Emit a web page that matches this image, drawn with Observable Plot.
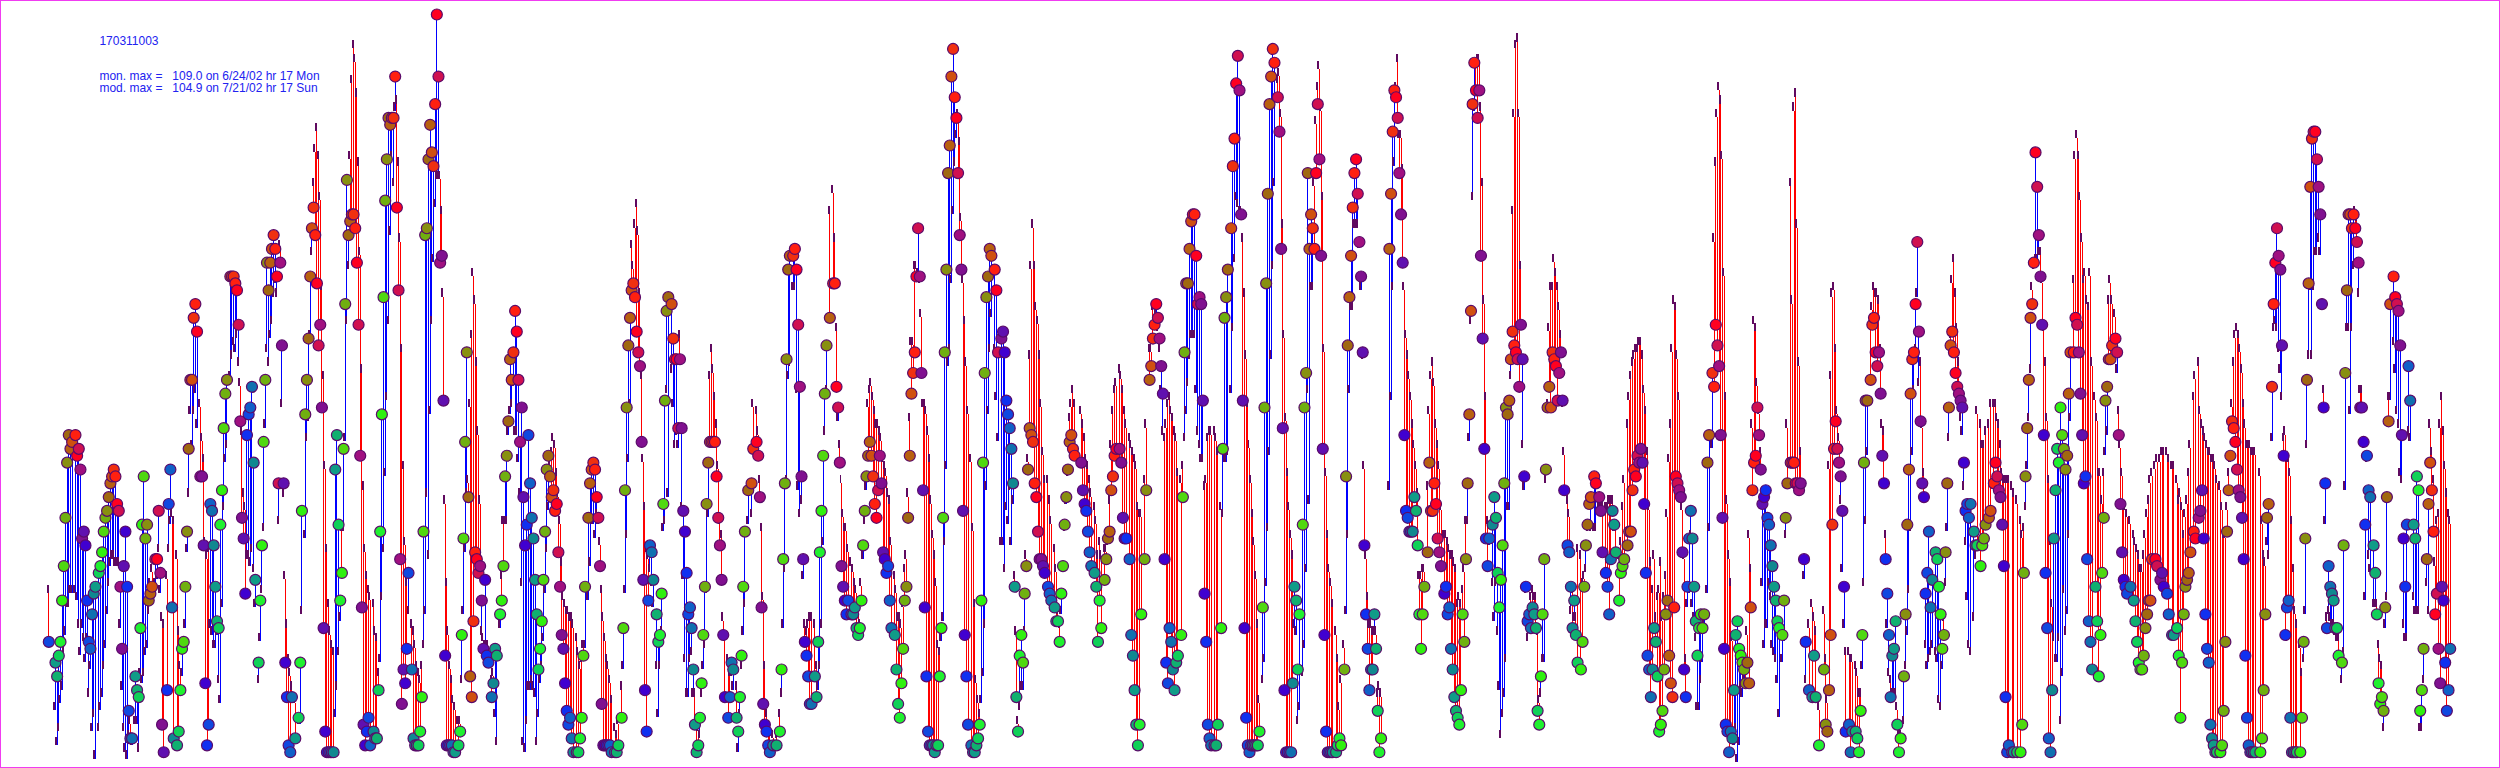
<!DOCTYPE html>
<html>
<head>
<meta charset="utf-8">
<script src="https://cdn.jsdelivr.net/npm/d3@7"></script>
<script src="https://cdn.jsdelivr.net/npm/@observablehq/plot@0.6"></script>
<style>
html,body{margin:0;padding:0;background:#fff}
#frame{width:2500px;height:768px;box-sizing:border-box;border:1px solid #f03cf0;overflow:hidden;position:relative}
#frame svg{display:block;position:absolute;left:-1px;top:-1px;background:none}
</style>
</head>
<body>
<div id="frame"></div>
<script>
// Hourly readings, each row is [hour of series, monitored ppb, modelled ppb]
const stretch1 = [[29,18,25],[33,15,8],[34,13,3],[35,16,5],[36,18,9],[37,24,11],[38,29,16],[39,36,19],[40,44,23],[41,48,23],[42,46,25],[43,47,25],[45,48,25],[46,45,24],[47,46,20],[48,43,16],[49,33,20],[50,34,18],[51,32,15],[52,24,18],[53,18,10],[54,17,14],[55,22,5],[56,25,7],[57,26,1],[59,28,5],[60,29,8],[61,31,10],[62,34,14],[63,36,17],[64,37,22],[65,39,26],[66,41,29],[67,42,30],[68,43,30],[69,42,29],[70,38,29],[71,37,29],[72,26,20],[73,17,11],[74,29,5],[75,34,2],[76,26,1],[77,8,4],[78,4,6],[79,4,3],[81,13,6],[82,11,6],[83,10,2],[84,20,13],[85,35,12],[86,42,13],[87,33,16],[88,35,17],[89,24,22],[90,25,26],[91,26,28],[93,30,26],[94,30,27],[95,37,31],[96,28,25],[97,6,21],[98,2,20],[100,11,27],[101,38,31],[102,43,35],[103,23,36],[104,4,35],[106,3,30],[107,5,19],[108,11,14],[109,17,13],[110,18,17],[111,26,20],[112,34,31],[113,46,39],[114,56,51],[115,56,46],[116,65,51],[117,67,54],[118,63,49]];
const stretch2 = [[120,42,52],[121,42,47],[122,32,44],[123,12,32],[124,3,30],[125,6,31],[126,38,20],[127,37,19],[128,32,17],[129,26,17],[130,21,19],[131,20,12],[132,35,9],[133,40,23],[134,49,37],[135,54,44],[136,56,46],[138,71,56],[139,71,59],[140,71,61],[141,70,60],[142,69,62],[143,64,58],[144,50,55],[145,36,48],[146,33,39],[147,25,37],[148,48,30],[149,51,30],[150,52,29],[151,55,31],[152,44,28],[153,27,23],[155,15,12],[156,24,18],[157,32,25],[158,47,34],[159,56,49],[160,73,60],[161,69,58],[162,73,62],[163,75,64],[164,77,68],[165,75,70],[166,71,68],[167,41,35],[168,73,75],[169,61,52],[170,41,39],[171,15,27],[172,10,20],[173,3,15],[174,2,13],[175,10,11],[177,4,9],[179,7,6],[180,15,6],[181,37,22],[183,51,33],[184,56,47],[185,62,50],[186,71,62],[187,78,74],[188,81,84],[189,77,89],[190,70,92],[191,61,88],[192,64,82],[193,52,69],[194,20,56],[195,5,43],[196,2,31],[197,2,23],[198,2,19],[199,2,17],[200,2,16],[201,43,7],[202,48,11],[203,35,16],[204,24,21],[205,28,34],[206,46,34],[207,67,47],[208,85,64],[209,77,72]];
const stretch3 = [[210,79,88],[211,80,99],[212,80,104],[213,78,102],[214,73,97],[215,64,87],[216,45,74],[217,23,57],[218,6,40],[219,3,31],[220,5,27],[221,7,25],[222,3,24],[224,5,23],[225,4,19],[226,4,18],[227,11,13],[228,34,15],[229,51,24],[230,68,31],[231,82,42],[232,88,53],[233,94,64],[234,93,77],[235,94,88],[236,94,84],[237,100,95],[238,81,96],[239,69,87],[240,30,76],[241,9,60],[242,14,43],[243,12,32],[244,17,26],[245,28,22],[247,14,20],[248,4,19],[249,3,17],[250,3,14],[251,3,13],[252,5,12],[253,10,14],[254,34,17],[255,77,22],[256,78,39],[257,88,30],[258,93,51],[259,89,64],[260,87,73],[261,96,81],[262,109,85],[263,100,85],[264,73,85],[265,74,80],[266,53,68],[267,16,38],[268,3,26],[269,3,19],[270,3,14],[271,3,12],[272,2,9],[273,2,8],[275,3,6],[276,5,6],[277,19,12],[278,33,22],[279,47,31],[280,60,39],[281,39,41],[282,13,52],[283,10,62],[284,21,71],[285,31,67],[286,30,58],[287,28,48],[288,29,38],[289,24,19],[290,17,18],[291,27,17],[292,16,17],[293,15,17],[295,10,12],[296,12,13],[297,17,7],[298,16,3]];
const stretch4 = [[300,22,20],[301,24,27],[302,29,35],[303,42,35],[304,45,35],[305,50,48],[306,59,51],[307,56,52],[308,60,55],[309,66,48],[310,63,48],[311,56,44],[312,47,39],[313,52,26],[314,39,3],[315,32,2],[316,35,6],[317,48,11],[318,41,11],[319,36,12],[320,33,11],[321,27,10],[322,22,3],[323,14,7],[324,17,12],[325,21,14],[326,27,18],[327,34,25],[328,43,31],[329,45,37],[330,42,43],[331,39,45],[332,40,47],[333,37,46],[334,38,42],[335,31,39],[336,26,35],[337,19,29],[338,17,24],[339,12,23],[340,8,22],[341,6,22],[342,7,21],[343,4,21],[344,2,20],[346,2,18],[347,2,16],[348,4,14],[349,7,15],[350,16,17],[351,26,17],[353,36,24],[354,41,29],[355,43,35],[356,44,35],[357,43,33],[358,39,36],[359,36,35],[360,29,32],[361,9,25],[362,3,21],[363,3,18],[364,3,15],[365,3,14],[366,3,12],[367,2,9],[369,2,5],[370,2,4],[371,3,6],[373,7,11],[374,20,14],[375,40,25],[376,52,33],[377,61,44],[378,65,52],[379,69,75],[380,70,72],[381,68,78],[382,63,81],[383,60,77],[384,58,68],[385,47,56],[386,27,44],[387,11,37],[388,5,31],[389,24,30],[390,32,28],[391,31,26],[392,27,23],[394,22,14],[395,18,7],[396,19,14],[397,25,19],[398,38,34],[399,53,35]];
const stretch5 = [[400,66,54],[401,68,39],[403,67,57],[404,62,52],[405,59,46],[406,59,48],[407,49,46],[408,59,62],[409,49,37],[410,37,27],[411,34,15],[412,28,10],[413,22,10],[414,23,15],[415,20,16],[416,14,10],[417,6,10],[418,2,6],[419,3,5],[420,7,4],[421,12,10],[422,19,14],[423,26,17],[424,38,25],[425,44,36],[426,47,56],[427,47,60],[428,47,57],[429,47,53],[430,42,49],[431,36,43],[432,32,35],[433,27,33],[434,19,21],[435,10,18],[437,7,15],[438,10,13],[439,15,13],[440,14,11],[442,7,11],[443,5,2],[444,10,7],[445,16,14],[446,26,19],[447,34,23],[449,40,35],[451,41,36],[452,46,52],[454,47,51],[455,45,48],[456,39,41],[457,23,34],[458,9,24],[459,6,14],[460,5,7],[461,3,5],[462,2,5],[464,3,4],[466,3,4],[468,5,7],[469,14,10],[470,30,20],[471,41,28],[472,59,41],[473,72,56],[474,74,58],[476,74,69],[477,75,69],[478,72,54],[479,64,40],[480,55,36],[481,42,38],[482,30,27],[483,18,20],[484,16,19],[485,13,20],[486,9,21],[487,9,21],[489,13,20],[490,10,14],[491,18,11],[492,31,14],[493,37,20],[494,45,32],[495,54,48],[496,61,54],[498,65,80]];
const stretch6 = [[500,70,83],[501,70,76],[502,55,63],[503,52,50],[504,44,46],[505,29,41],[506,26,36],[507,24,34],[508,22,34],[509,24,31],[511,22,29],[512,22,28],[513,23,26],[514,20,25],[515,19,22],[516,20,20],[517,24,26],[518,32,30],[519,37,35],[520,42,40],[521,45,52],[522,47,54],[523,45,55],[524,42,53],[525,38,51],[526,36,49],[527,40,49],[528,45,48],[529,41,47],[530,31,44],[531,30,43],[532,28,42],[533,29,39],[534,24,38],[535,20,32],[537,19,27],[538,14,25],[539,9,21],[540,7,21],[541,12,20],[542,17,23],[543,24,28],[544,26,30],[545,36,39],[546,45,50],[547,54,61],[548,57,61],[549,60,72],[550,71,72],[551,78,71],[552,71,70],[553,57,65],[554,40,52],[555,23,52],[556,13,51],[557,5,48],[558,3,44],[559,3,38],[560,3,33],[561,2,30],[562,3,26],[563,3,17],[564,13,16],[565,20,18],[566,36,21],[567,60,32],[568,72,43],[569,86,58],[570,90,60],[571,100,70],[572,104,80],[573,97,87],[574,94,91],[575,86,94],[576,77,90],[577,72,79],[578,37,70],[579,19,64],[580,13,58],[581,6,51],[583,3,44],[584,2,34],[585,2,23],[586,3,12],[587,4,9],[588,6,7],[589,24,9],[590,44,13],[591,57,20],[592,68,40],[593,71,51],[594,75,60],[595,74,65],[597,72,60],[598,69,53],[599,60,47]];
const stretch7 = [[601,62,32],[602,63,32],[603,60,28],[604,53,37],[605,51,35],[606,49,40],[607,46,32],[608,41,38],[609,26,27],[610,10,19],[611,5,6],[612,16,8],[613,19,11],[614,15,11],[615,25,19],[616,29,30],[617,43,44],[618,49,59],[619,48,72],[620,47,78],[621,41,72],[622,39,66],[623,34,64],[624,30,59],[625,30,52],[626,29,45],[627,28,41],[629,26,41],[630,25,38],[631,24,35],[633,23,31],[634,21,28],[635,21,22],[636,18,20],[637,25,22],[638,29,28],[639,35,34],[640,39,38],[641,43,42],[642,47,50],[643,48,52],[644,46,54],[645,45,52],[649,44,51],[650,40,49],[651,38,47],[652,37,44],[653,34,43],[654,31,41],[655,29,39],[657,28,37],[658,26,35],[659,18,30],[660,24,32],[661,20,30],[663,27,31],[664,30,31],[665,33,32],[666,34,38],[667,40,46],[668,42,51],[669,45,54],[670,46,55],[672,46,57],[673,44,56],[674,36,54],[675,33,51],[676,33,49],[678,30,47],[679,19,46],[680,16,45],[681,11,44],[682,6,43],[683,3,37],[684,6,36],[685,22,36],[687,30,41],[688,40,49],[690,56,60],[691,58,60],[692,62,66],[693,64,64],[694,67,65],[695,65,63],[696,62,60],[697,58,54],[698,54,48],[699,30,47]];
const stretch8 = [[700,15,49],[701,12,52],[702,20,53],[703,18,51],[704,14,50],[705,11,48],[706,15,47],[707,16,42],[709,19,41],[710,39,43],[711,60,47],[712,70,51],[713,70,55],[714,75,59],[715,79,62],[716,80,62],[717,80,62],[718,74,54],[719,67,48],[720,68,46],[721,67,44],[722,53,44],[723,25,40],[724,18,41],[725,6,47],[726,4,48],[727,3,48],[729,3,48],[730,3,47],[731,6,45],[733,20,37],[734,46,36],[735,65,44],[736,68,44],[737,72,45],[739,78,54],[740,87,63],[741,91,73],[742,99,82],[743,103,81],[744,98,80],[745,80,80],[746,53,76],[747,20,68],[748,7,59],[749,3,52],[750,2,46],[751,3,41],[752,3,36],[753,3,32],[754,3,27],[755,3,20],[756,5,9],[758,23,12],[759,52,15],[760,70,26],[761,83,34],[762,96,45],[763,100,59],[764,104,72],[765,102,84],[767,97,99],[768,92,100],[769,75,94],[770,49,78],[771,11,62],[772,2,50],[773,2,42],[774,2,37],[775,2,33],[776,12,30],[777,26,20],[778,24,19],[779,14,6],[780,22,8],[782,35,13],[783,52,17],[784,57,28],[785,86,54],[786,75,38],[787,80,69],[788,78,69],[789,75,84],[790,86,93],[791,96,98],[792,88,101],[793,74,95],[794,46,82],[795,19,60],[796,5,42],[797,2,33],[798,2,28],[799,2,26]];
const stretch9 = [[800,2,23],[802,2,19],[803,3,15],[804,4,8],[805,3,12],[807,14,17],[808,42,22],[809,61,33],[810,68,54],[811,74,66],[812,81,66],[813,86,78],[814,88,78],[815,83,78],[816,76,75],[817,71,69],[818,60,59],[819,32,43],[820,22,30],[821,17,24],[822,11,20],[823,14,20],[824,14,19],[825,22,19],[826,17,19],[827,8,10],[828,2,11],[829,4,10],[834,75,40],[835,83,53],[836,92,69],[837,98,87],[838,97,98],[839,94,102],[840,86,91],[841,80,91],[842,73,86],[843,48,69],[844,37,62],[845,36,59],[846,34,56],[847,34,53],[848,34,49],[849,39,46],[850,37,43],[851,32,39],[852,22,27],[853,17,27],[854,22,28],[855,26,28],[857,31,40],[858,44,51],[859,37,56],[860,37,58],[861,41,55],[862,38,49],[863,33,46],[864,31,43],[865,29,37],[867,25,33],[868,26,33],[869,22,32],[870,23,31],[871,17,30],[872,14,30],[873,10,29],[874,8,28],[875,7,23],[876,6,24],[877,11,23],[878,22,25],[879,18,28],[880,30,35],[881,41,35],[882,51,47],[883,66,64],[884,96,82],[885,102,95],[886,98,101],[887,94,102],[888,98,102],[889,74,95],[890,62,84],[891,46,67],[892,33,53],[893,29,35],[894,33,32],[896,35,26],[897,39,21],[898,36,26],[899,28,19]];
const stretch10 = [[900,23,11],[901,27,4],[902,32,7],[903,41,10],[904,52,15],[905,51,37],[906,53,37],[907,59,56],[908,63,80],[909,61,94],[910,60,104],[911,59,105],[912,55,94],[913,64,72],[914,59,46],[915,42,40],[916,26,25],[917,21,18],[918,22,21],[919,20,24],[920,23,25],[921,22,24],[922,20,24],[923,8,19],[924,6,9],[925,13,10],[926,22,15],[927,30,15],[928,43,41],[929,52,52],[930,55,63],[931,52,69],[932,60,69],[933,59,73],[934,58,71],[935,53,69],[936,57,66],[937,60,62],[938,53,52],[939,40,45],[941,32,38],[942,31,36],[943,26,22],[944,20,25],[945,24,21],[946,19,21],[947,15,31],[949,14,30],[950,18,26],[951,26,27],[952,32,28],[953,35,34],[954,38,38],[955,39,34],[957,42,34],[958,41,34],[960,39,37],[961,37,37],[962,31,37],[964,28,37],[965,26,37],[966,22,38],[967,30,38],[968,37,38],[969,35,34],[970,31,34],[972,24,30],[973,28,32],[974,29,37],[975,30,41],[977,32,49],[978,34,53],[979,34,56],[980,40,58],[981,43,59],[982,42,60],[983,45,60],[984,44,61],[985,46,61],[986,44,59],[987,38,54],[988,28,51],[989,16,45],[990,14,37],[991,10,29],[992,14,25],[993,20,30],[994,18,21],[995,13,24],[996,5,25],[997,6,29],[998,8,21],[999,14,24]];
const stretch11 = [[1000,22,27],[1001,24,36],[1002,16,44],[1003,12,49],[1004,10,60],[1005,23,67],[1006,42,66],[1007,41,59],[1008,40,53],[1009,39,40],[1010,31,37],[1011,14,30],[1012,10,15],[1013,26,23],[1014,33,25],[1015,37,33],[1016,33,23],[1017,26,21],[1018,21,18],[1019,16,8],[1020,20,8],[1021,22,12],[1022,20,15],[1023,22,20],[1025,44,25],[1026,48,34],[1028,57,46],[1029,55,76],[1030,64,87],[1031,61,94],[1032,58,98],[1033,48,96],[1034,36,88],[1035,17,71],[1036,6,53],[1037,5,38],[1038,2,30],[1039,5,26],[1040,4,18],[1041,11,3],[1042,19,5],[1043,21,0.5],[1044,17,3],[1045,16,11],[1046,15,10],[1047,14,12],[1048,12,14],[1049,15,19],[1050,12,33],[1051,23,28],[1052,40,49],[1053,44,64],[1054,45,63],[1055,52,55],[1056,48,51],[1057,43,45],[1058,38,26],[1059,39,17],[1060,40,20],[1061,36,20],[1062,35,26],[1063,32,24],[1064,29,17],[1065,26,16],[1066,24,15],[1067,21,12],[1068,20,7],[1070,19,15],[1071,24,18],[1072,36,33],[1073,41,49],[1075,44,84],[1076,44,67],[1077,44,95],[1078,41,97],[1079,41,78],[1080,40,58],[1081,41,45],[1083,30,27],[1084,18,12],[1086,11,20],[1088,10,23],[1089,16,21],[1090,10,19],[1092,3,8],[1095,14,22],[1096,6,15],[1097,5,9],[1098,11,43],[1099,19,56]];
const stretch12 = [[1100,35,68],[1101,46,69],[1102,50,60],[1103,46,51],[1104,44,47],[1105,42,38],[1106,37,28],[1107,26,20],[1108,5,16],[1110,6,16],[1111,2,15],[1112,5,15],[1114,5,14],[1115,4,13],[1116,2,10],[1117,8,10],[1118,19,14],[1119,44,26],[1120,53,35],[1121,53,45],[1123,56,64],[1124,64,66],[1125,65,69],[1126,60,68],[1127,58,68],[1128,60,67],[1129,54,60],[1130,45,49],[1131,41,48],[1132,30,33],[1133,25,20],[1134,19,13],[1135,10,12],[1136,16,10],[1137,17,10],[1138,21,10],[1139,6,8],[1140,2,4],[1141,4,4],[1143,13,6],[1144,22,14],[1145,35,19],[1146,43,25],[1147,54,34],[1148,59,45],[1149,60,54],[1150,67,60],[1151,76,68],[1152,63,55],[1153,50,58],[1154,41,49],[1155,39,42],[1156,25,17],[1157,28,14],[1158,34,15],[1159,23,16],[1160,27,17],[1162,31,16],[1163,30,15],[1164,26,9],[1165,22,8],[1166,17,14],[1167,19,21],[1168,31,26],[1169,41,34],[1170,52,47],[1171,61,62],[1172,63,70],[1173,60,73],[1174,57,68],[1175,55,63],[1176,54,58],[1177,53,50],[1178,52,48],[1179,44,40],[1180,37,32],[1181,38,24],[1182,36,17],[1183,38,16],[1185,34,21],[1186,32,30],[1187,32,51],[1189,29,49],[1190,32,46],[1191,33,46],[1192,35,48],[1194,36,49],[1195,37,52],[1197,41,52],[1198,44,52],[1199,42,50]];
const stretch13 = [[1200,40,49],[1201,39,46],[1202,35,42],[1203,29,41],[1204,10,41],[1205,2,41],[1206,3,41],[1208,2,40],[1209,2,39],[1211,2,38],[1213,2,35],[1214,6,33],[1215,28,34],[1216,42,37],[1217,49,43],[1218,56,50],[1219,65,57],[1220,67,69],[1221,73,72],[1222,89,73],[1223,84,73],[1224,77,74],[1225,71,74],[1226,64,70],[1227,48,63],[1228,28,58],[1229,20,50],[1230,4,41],[1231,2,32],[1232,11,23],[1233,33,18],[1234,40,15],[1235,46,15],[1236,44,18],[1237,52,6],[1238,48,13],[1239,46,25],[1240,43,19],[1241,45,22],[1242,54,33],[1243,60,50],[1245,60,70],[1246,65,88],[1247,64,91],[1248,60,88],[1249,54,82],[1250,48,76],[1251,41,70],[1252,42,71],[1253,30,67],[1254,21,66],[1255,18,71],[1256,14,58],[1258,26,53],[1259,21,50],[1260,13,42],[1261,19,42],[1262,28,38],[1263,36,42],[1264,53,45],[1265,55,48],[1266,59,67],[1267,59,70],[1268,61,67],[1270,62,65],[1271,60,57],[1272,48,51],[1273,38,46],[1274,31,42],[1275,27,37],[1276,26,37],[1277,25,36],[1279,26,35],[1281,24,33],[1282,21,32],[1283,18,31],[1284,15,30],[1285,14,28],[1286,14,28],[1287,16,30],[1288,20,33],[1289,22,36],[1290,24,38],[1291,24,41],[1292,30,42],[1294,30,43],[1295,29,44],[1297,27,44],[1298,28,45],[1299,26,45]];
const stretch14 = [[1301,25,45],[1302,22,44],[1304,19,43],[1305,19,43],[1307,20,41],[1308,16,38],[1309,7,39],[1310,15,37],[1311,22,33],[1312,26,36],[1313,27,38],[1314,28,42],[1315,31,46],[1317,34,53],[1318,33,56],[1320,36,58],[1321,37,51],[1322,40,49],[1323,33,48],[1324,22,47],[1325,17,46],[1326,15,45],[1327,6,45],[1328,4,44],[1329,3,44],[1330,2,43],[1331,2,41],[1333,2,40],[1334,3,37],[1335,8,33],[1336,18,33],[1337,34,37],[1338,40,42],[1339,45,44],[1340,50,52],[1341,49,58],[1342,47,62],[1343,43,63],[1344,40,62],[1345,39,60],[1346,36,57],[1347,30,52],[1348,16,49],[1349,7,46],[1350,3,46],[1351,2,46],[1352,2,45],[1353,2,45],[1354,2,45],[1357,2,42],[1358,4,35],[1359,11,30],[1360,22,29],[1361,36,32],[1362,38,30],[1364,55,47],[1365,67,63],[1366,73,64],[1367,78,63],[1368,74,60],[1369,72,57],[1370,61,53],[1371,45,47],[1372,19,48],[1373,23,44],[1374,24,44],[1375,7,42],[1376,2,35],[1377,2,28],[1378,2,22],[1379,2,20],[1381,2,17],[1382,7,13],[1383,18,15],[1384,33,22],[1385,56,46],[1386,70,59],[1387,84,69],[1388,91,59],[1389,92,69],[1390,92,74],[1391,88,74],[1392,84,76],[1393,80,74],[1394,67,66],[1395,52,54],[1396,41,35],[1397,20,21],[1398,29,22],[1399,26,21]];
const stretch15 = [[1400,25,20],[1401,24,20],[1402,20,19],[1403,20,18],[1404,16,18],[1406,15,12],[1407,32,16],[1408,57,40],[1409,69,63],[1410,80,63],[1411,80,51],[1412,78,63],[1413,80,72],[1414,78,80],[1415,76,79],[1416,73,68],[1417,52,54],[1418,52,54],[1419,47,46],[1420,35,24],[1421,45,44],[1422,40,30],[1423,39,28],[1425,32,23],[1426,28,23],[1427,22,23],[1428,12,17],[1429,9,15],[1430,10,14],[1431,8,5],[1432,23,20],[1433,39,24],[1434,50,53],[1435,67,53],[1437,71,61],[1438,68,57],[1439,67,51],[1440,66,49],[1441,61,42],[1442,48,41],[1443,33,20],[1444,26,18],[1445,35,18],[1446,58,48],[1447,53,47],[1449,35,24],[1450,33,22],[1451,42,22],[1452,40,22],[1453,8,5],[1454,11,5],[1455,17,12],[1457,30,26],[1458,38,22],[1459,44,49],[1460,40,45],[1461,34,41],[1462,22,29],[1463,25,35],[1464,17,36],[1465,12,49],[1466,26,53],[1467,24,48],[1468,15,43],[1469,8,39],[1470,11,36],[1471,17,35]];
const labelTop = ["170311003"];
const labelMon = ["mon. max =\u00a0\u00a0\u00a0109.0 on 6/24/02 hr 17 Mon"];
const labelMod = ["mod. max =\u00a0\u00a0\u00a0104.9 on 7/21/02 hr 17 Sun"];
// Circle colour for each hour of the day
const hourColors = ["#1048e0","#1060c8","#1070b0","#108890","#109c88","#10b070","#10d058","#20f030","#30f010","#50d810","#70b010","#889010","#a06810","#b86010","#d05010","#f03010","#ff2010","#ff0020","#d01050","#a01080","#801090","#6010b0","#4000d0","#1030f0"];

const readings = [stretch1,stretch2,stretch3,stretch4,stretch5,stretch6,stretch7,stretch8,stretch9,stretch10,stretch11,stretch12,stretch13,stretch14,stretch15].flat();
const hr = d => d[0], mon = d => d[1], mod = d => d[2];
const textOpts = {frameAnchor:"top-left", textAnchor:"start", fill:"#2222f0", fontFamily:"Liberation Sans, Arial, sans-serif", fontSize:12};

const chart = Plot.plot({
  width:2500, height:768, margin:0,
  style:{background:"transparent"},
  x:{domain:[0,1500], range:[0,2500], axis:null},
  y:{domain:[-0.27,111.03], range:[768,0], axis:null},
  color:{type:"ordinal", domain:d3.range(24), range:hourColors},
  marks:[
    Plot.ruleX(readings,{x:hr, y1:mon, y2:mod, stroke:d=>mon(d)>=mod(d)?"#0000ff":"#ff0000", strokeWidth:1, shapeRendering:"crispEdges"}),
    Plot.ruleX(readings,{x:hr, y1:mod, y2:d=>mod(d)+1.2, stroke:"#600a60", strokeWidth:2, dx:-1, shapeRendering:"crispEdges"}),
    Plot.dot(readings,{x:hr, y:mon, r:5.5, fill:d=>(hr(d)+19)%24, stroke:"#5a0a6a", strokeWidth:1.2}),
    Plot.text(labelTop,{...textOpts, dx:99, dy:36.5}),
    Plot.text(labelMon,{...textOpts, dx:99, dy:71}),
    Plot.text(labelMod,{...textOpts, dx:99, dy:83})
  ]
});
document.getElementById("frame").appendChild(chart);
</script>
</body>
</html>
